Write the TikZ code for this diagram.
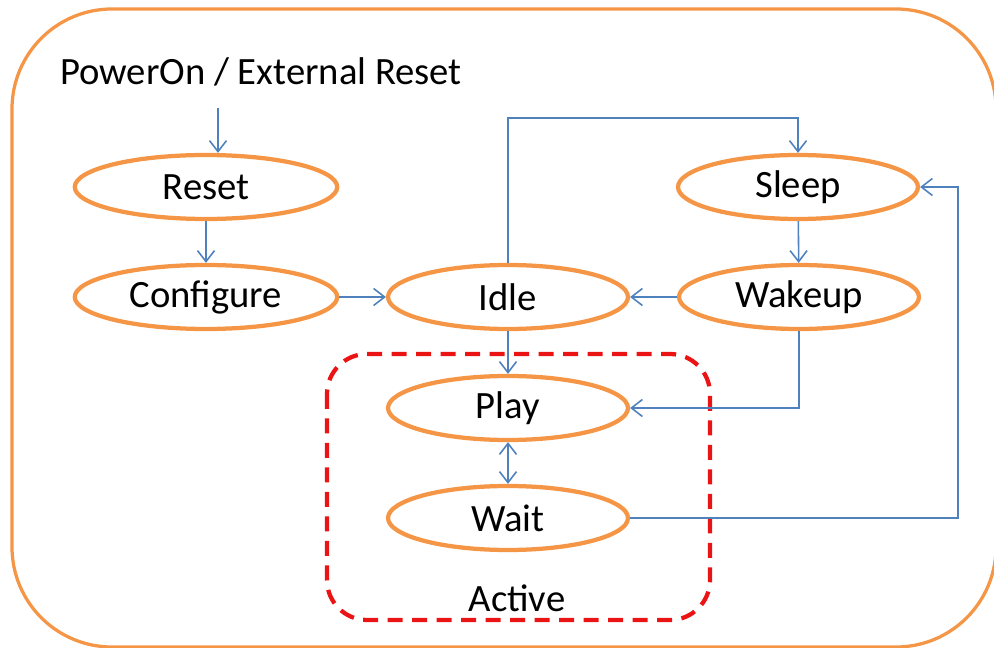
\documentclass[tikz,border=0pt]{standalone}
\usepackage{fontspec}
\setmainfont{Carlito}
\usetikzlibrary{shapes.geometric,arrows.meta}

\definecolor{stateorange}{RGB}{245,150,70}
\definecolor{linkblue}{RGB}{79,129,189}
\definecolor{activered}{RGB}{235,20,20}

\tikzset{
  state/.style={ellipse, draw=stateorange, line width=0.085cm, inner sep=0pt,
    minimum width=4.8cm, minimum height=1.28cm, font=\fontsize{22}{25}\selectfont},
  wide/.style={minimum width=5.25cm},
  conn/.style={draw=linkblue, line width=0.9pt,
    -{Straight Barb[length=2.2mm,width=3.4mm,line width=0.9pt]}},
  both/.style={conn, {Straight Barb[length=2.2mm,width=3.4mm,line width=0.9pt]}-{Straight Barb[length=2.2mm,width=3.4mm,line width=0.9pt]}},
  label/.style={font=\fontsize{22}{25}\selectfont}
}

\begin{document}
\begin{tikzpicture}[x=0.02cm, y=-0.02cm]
  \useasboundingbox (0,0) rectangle (994,648);

  % rama exterioara si zona activa
  \draw[stateorange, line width=0.065cm, rounded corners=2cm] (12,9) rectangle (996,647);
  \draw[activered, line width=0.085cm, dash pattern=on 0.3cm off 0.19cm, rounded corners=0.8cm]
    (327,354) rectangle (710,620);

  % texte
  \node[label] (pwr) at (261,72) {PowerOn / External Reset};
  \node[label] (active) at (517,598) {Active};

  % stari
  \node[state, wide] (reset) at (206,187) {Reset};
  \node[state, wide] (config) at (206,297) {Configure};
  \node[state] (idle) at (508,297) {Idle};
  \node[state] (sleep) at (798,187) {Sleep};
  \node[state] (wakeup) at (799,297) {Wakeup};
  \node[state] (play) at (508,408) {Play};
  \node[state] (wait) at (508,518) {Wait};

  % puncte de trecere
  \coordinate (start) at (218,108);
  \coordinate (top) at (0,118);
  \coordinate (rgt) at (958,0);

  % tranzitii
  \draw[conn] (start) -- (start |- reset.north);
  \draw[conn] (reset) -- (config);
  \draw[conn] (config) -- (idle);
  \draw[conn] (wakeup) -- (idle);
  \draw[conn] (sleep) -- (wakeup);
  \draw[conn] (idle.north) -- (idle.north |- top) -- (sleep.north |- top) -- (sleep.north);
  \draw[conn] (idle) -- (play);
  \draw[conn] (wakeup.south) |- (play.east);
  \draw[both] (play) -- (wait);
  \draw[conn] (wait.east) -- (wait.east -| rgt) |- (sleep.east);
\end{tikzpicture}
\end{document}
